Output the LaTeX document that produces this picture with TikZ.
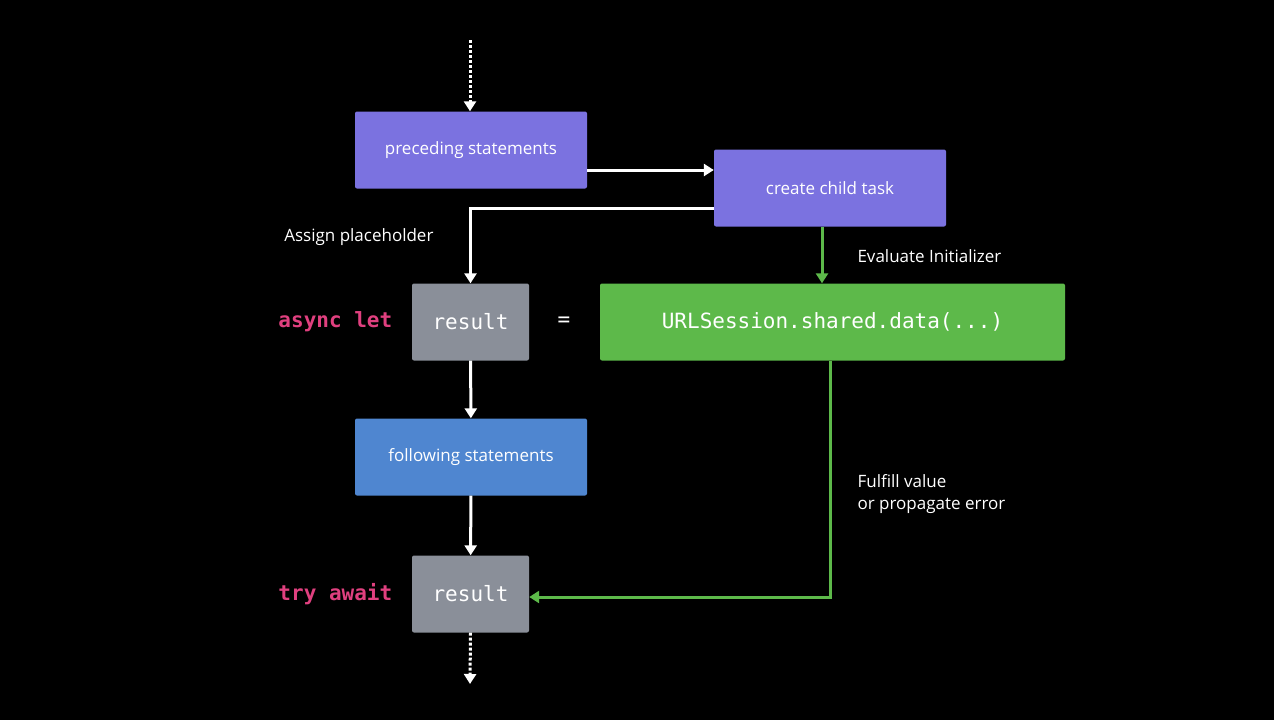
\documentclass[tikz,border=0pt]{standalone}
\usepackage{fontspec}
\setmainfont{Open Sans}
\newfontfamily\codefont{DejaVu Sans Mono}
\usetikzlibrary{arrows.meta,positioning}
\definecolor{boxpurple}{HTML}{7B72E0}
\definecolor{boxblue}{HTML}{4F86D0}
\definecolor{boxgray}{HTML}{8A8F99}
\definecolor{boxgreen}{HTML}{5DB94A}
\definecolor{kwpink}{HTML}{E0407F}
\tikzset{
  box/.style={draw=none,rounded corners=2pt,minimum height=77pt,text=white,font=\fontsize{17}{20}\selectfont},
  stmt/.style={box,minimum width=232pt},
  val/.style={box,minimum width=117pt,fill=boxgray,font=\codefont\fontsize{21}{24}\selectfont},
  flow/.style={white,line width=3pt,-{Triangle[length=10pt,width=12pt]}},
  gflow/.style={boxgreen,line width=3pt,-{Triangle[length=10pt,width=12pt]}},
  dflow/.style={white,line width=3pt,dotted,-{Triangle[length=10pt,width=12pt]}},
  lbl/.style={text=white,font=\fontsize{17}{22}\selectfont},
  kw/.style={text=kwpink,font=\codefont\bfseries\fontsize{21}{24}\selectfont}
}
\begin{document}
\begin{tikzpicture}[x=1pt,y=-1pt]
  \fill[black] (0,0) rectangle (1274,720);
  \useasboundingbox (0,0) rectangle (1274,720);
  % boxes
  \node[stmt,fill=boxpurple] (pre) at (471,150) {preceding statements};
  \node[stmt,fill=boxpurple] (child) at (830,188) {create child task};
  \node[val] (res1) at (470.5,322) {result};
  \node[box,fill=boxgreen,minimum width=465pt,font=\codefont\fontsize{21}{24}\selectfont] (init) at (832.5,322) {URLSession.shared.data(...)};
  \node[stmt,fill=boxblue] (post) at (471,457) {following statements};
  \node[val] (res2) at (470.5,594) {result};
  \coordinate (top) at (470,40);
  \coordinate (bot) at (470,684);
  % keywords
  \node[kw,left=16pt of res1] (kwlet) {async let};
  \node[kw,left=16pt of res2] (kwtry) {try await};
  \node[text=white,font=\codefont\fontsize{21}{24}\selectfont] (eq) at (564,322) {=};
  % labels
  \node[lbl,anchor=east] (assign) at (437,237) {Assign placeholder};
  \node[lbl,anchor=west] (eval) at (854,256) {Evaluate Initializer};
  \node[lbl,anchor=west,align=left] (fulfill) at (854,494) {Fulfill value\\or propagate error};
  % connectors
  \draw[dflow] (top) -- (pre.north -| top);
  \draw[flow] (pre.east |- 0,170) -- (child.west |- 0,170);
  \draw[flow] (child.west |- 0,208) -| (res1.north);
  \draw[gflow] (child.south -| 822,0) -- (init.north -| 822,0);
  \draw[flow] (res1) -- (post);
  \draw[flow] (post) -- (res2);
  \draw[gflow] (init.south -| 830,0) |- (res2.east |- 0,597);
  \draw[dflow] (res2.south) -- (bot);
\end{tikzpicture}
\end{document}
